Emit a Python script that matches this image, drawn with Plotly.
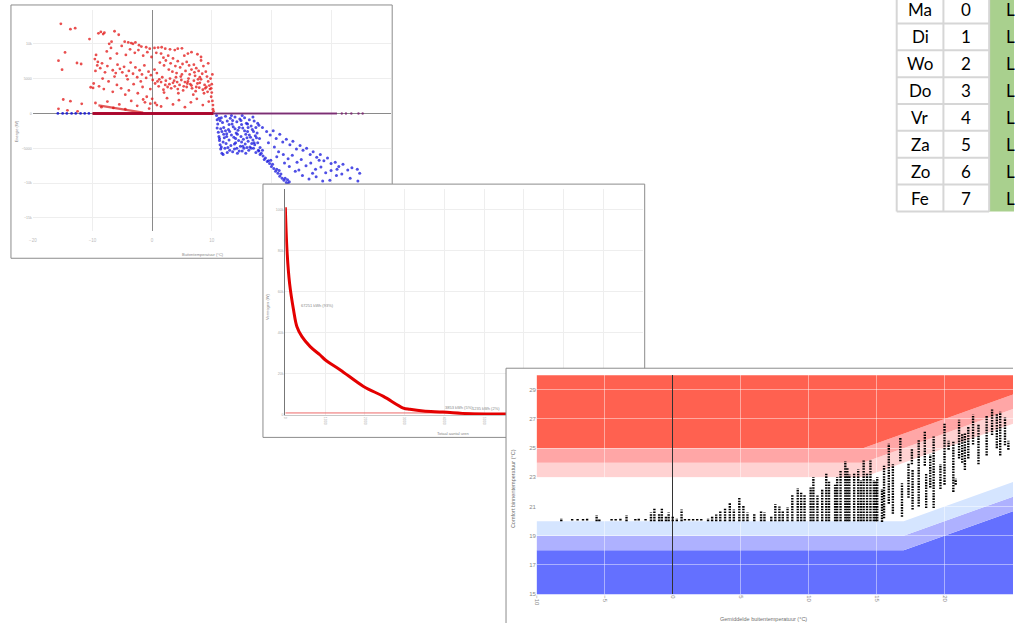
import plotly.graph_objects as go

W, H = 1015, 626
FONT = "Liberation Sans"

def dx(a, b):
    return [a / W, b / W]

def dy(top, bottom):
    return [1 - bottom / H, 1 - top / H]

def px(x):
    return x / W

def py(y):
    return 1 - y / H

# ---------------- Panel 1: energie vs buitentemperatuur ----------------
heat_pts = [
    (-15.3, 12860), (-13.7, 12100), (-12.9, 12240), (-15.7, 7570), (-14.6, 8760), (-15.1, 6290),
    (-12.6, 7240), (-11.9, 7100), (-10.5, 10670), (-10.3, 3760), (-9.9, 3670), (-14.9, 2000),
    (-13.7, 1760), (-11.8, 1380), (-15.7, 670), (-14.2, 450), (-12.5, 300),
    (-9.0, 11500), (-8.6, 11700), (-8.2, 11400), (-8.0, 11600), (-6.3, 11800), (-5.6, 11300),
    (-6.8, 10300), (-7.2, 10000), (-4.6, 10300), (-4.0, 10200), (-3.5, 10100), (-3.2, 10000),
    (-2.8, 10200), (-2.2, 9800), (-1.8, 9600), (-1.0, 9500), (-0.4, 9300), (0.4, 9400), (1.0, 9450),
    (1.6, 9500), (2.2, 9300), (3.0, 9200), (4.3, 9300), (5.0, 9350), (3.8, 9100), (6.0, 8600),
    (6.6, 8800), (7.6, 8500), (8.2, 8100),
    (-9.4, 8400), (-9.6, 7800), (-9.1, 7400), (-9.2, 6900), (-8.7, 6500), (-9.5, 6100), (-8.4, 7200),
    (-7.9, 5900), (-7.5, 6800), (-7.0, 7900), (-6.6, 6200), (-6.1, 5800), (-5.8, 7000), (-5.4, 6400),
    (-5.0, 5900), (-4.7, 6700), (-4.3, 5400), (-3.9, 6100), (-3.6, 7300), (-3.2, 5700), (-2.8, 6600),
    (-2.5, 5200), (-2.1, 6200), (-1.7, 5600), (-1.3, 6900), (-1.0, 5100), (-0.6, 6000), (-0.2, 5500),
    (0.1, 4800), (0.4, 6300), (0.8, 5800), (1.2, 4900), (1.5, 8600), (1.9, 8000), (2.3, 7600),
    (2.7, 8300), (3.1, 7200), (3.5, 7900), (3.9, 6800), (4.3, 7500), (4.7, 6600), (5.1, 7100),
    (5.4, 8300), (5.8, 7400), (6.2, 6900), (6.6, 6300), (7.0, 7000), (7.4, 6500), (7.8, 6100),
    (8.2, 7600), (8.6, 6800), (9.0, 6000), (9.4, 7200),
    (-9.8, 4300), (-8.9, 3900), (-8.1, 3500), (-7.3, 4600), (-6.6, 3100), (-5.9, 4100), (-5.2, 3600),
    (-4.5, 2700), (-3.9, 3300), (-3.1, 4200), (-2.4, 2900), (-1.6, 3800), (-0.9, 2400), (-0.3, 3500),
    (0.5, 4300), (1.1, 3900), (1.5, 4500), (1.9, 3400), (2.3, 4700), (2.6, 3800), (2.9, 4200),
    (3.2, 3600), (3.5, 4400), (3.8, 3900), (4.0, 5200), (4.3, 3500), (4.6, 4100), (4.9, 4800),
    (5.2, 3300), (5.5, 4500), (5.8, 3800), (6.1, 5000), (6.4, 4200), (6.7, 3600), (7.0, 4700),
    (7.3, 3200), (7.6, 4300), (7.9, 3700), (8.2, 4900), (8.5, 3400), (8.8, 4100), (9.1, 3800),
    (9.4, 4600), (9.7, 3500), (10.0, 4200), (10.1, 5600), (10.0, 3000), (9.9, 2400), (10.1, 1800),
    (10.2, 1200), (10.2, 600), (10.3, 300), (9.8, 5000), (9.9, 3600), (6.0, 4600), (7.2, 5400),
    (8.0, 5200), (5.0, 5600), (3.0, 5000), (4.4, 2900), (6.9, 2700), (8.7, 2900), (2.0, 3000),
    (-9.5, 1500), (-8.5, 900), (-7.5, 1700), (-6.5, 800), (-5.5, 1300), (-4.5, 600), (-3.5, 1800),
    (-2.5, 1100), (-1.5, 2000), (-0.5, 700), (0.5, 1500), (1.5, 1000), (2.5, 2200), (3.5, 1300),
    (4.5, 1900), (5.5, 900), (6.5, 1600), (7.5, 2100), (8.5, 1200), (9.5, 1700), (-1.2, 1600),
    (0.0, 2100), (0.8, 1200), (-0.3, 1400),
    (-7.6, 8900), (-6.9, 9400), (-5.9, 8600), (-5.1, 9700), (-4.4, 8400), (-3.7, 9200), (-2.9, 8700),
    (-2.3, 9100), (-1.5, 8300), (-0.8, 8800), (-0.1, 8100), (0.7, 8700), (1.3, 7300), (2.0, 6900),
    (2.8, 6300), (3.4, 6000), (4.1, 5800), (4.8, 5300), (5.6, 6100), (6.3, 5600), (7.1, 5900),
    (7.7, 4900), (8.4, 5700), (9.2, 5300), (9.6, 4000), (3.7, 4700), (4.2, 4500), (5.3, 3900),
    (5.9, 4300), (6.6, 4000), (7.4, 3800), (8.0, 4400), (8.9, 3600), (9.3, 3100), (2.2, 4100),
    (1.7, 5200), (0.9, 4600), (-1.9, 4600), (-4.1, 4900), (-6.3, 5300), (-8.3, 5000),
]
cool_pts = [
    (10.8, -300), (10.9, -900), (11.0, -1500), (10.9, -2100), (11.1, -2700), (11.2, -3300),
    (11.3, -3900), (11.4, -4500), (11.5, -5100), (11.7, -5700), (11.9, -5900),
    (11.6, -600), (12.3, -400), (13.1, -700), (13.9, -500), (14.7, -800), (15.5, -600), (16.3, -900),
    (17.1, -1100), (17.7, -1400), (11.8, -1300), (12.6, -1100), (13.4, -1500), (14.2, -1200),
    (15.0, -1600), (15.8, -1400), (16.6, -1800), (17.4, -2000), (12.0, -2000), (12.8, -2300),
    (13.6, -1900), (14.4, -2400), (15.2, -2100), (16.0, -2600), (16.8, -2300), (17.6, -2800),
    (11.7, -2600), (12.5, -2900), (13.3, -3100), (14.1, -2800), (14.9, -3300), (15.7, -3000),
    (16.5, -3400), (17.3, -3200), (18.0, -3600), (12.1, -3500), (12.9, -3800), (13.7, -3400),
    (14.5, -3900), (15.3, -3700), (16.1, -4000), (16.9, -3800), (17.7, -4200), (12.4, -4300),
    (13.2, -4600), (14.0, -4200), (14.8, -4700), (15.6, -4400), (16.4, -4800), (17.2, -4500),
    (18.1, -4900), (12.2, -5000), (13.0, -5300), (13.8, -5100), (14.6, -5400), (15.4, -5000),
    (16.2, -5300), (17.0, -5000), (17.8, -5300), (12.6, -5600), (13.5, -5500), (14.3, -5700),
    (15.1, -5400), (11.4, -1000), (12.0, -3000), (13.0, -2600), (14.0, -3600), (15.0, -4100),
    (16.0, -1500), (17.0, -2600), (11.9, -4100), (13.5, -1000), (14.6, -2000), (15.9, -3500),
    (16.7, -4300), (12.7, -4900), (14.2, -5000), (15.7, -5700), (17.4, -5600), (13.3, -300),
    (15.1, -300), (16.9, -500),
    (11.2, -700), (11.5, -2200), (11.3, -3600), (11.6, -4800), (12.9, -1600), (14.3, -3000),
    (15.5, -2500), (16.3, -3100), (17.5, -3500), (13.8, -4400), (15.2, -4700), (16.6, -5000),
    (12.3, -2500), (13.9, -2200), (16.1, -2000), (17.9, -1700), (14.9, -1000), (12.5, -3300),
    (15.9, -4900), (17.1, -4200),
    (17.9, -5400), (18.3, -5700), (18.6, -6100), (19.0, -6400), (19.3, -6900), (19.7, -7200),
    (20.0, -7600), (20.4, -7900), (20.7, -8300), (21.1, -8600), (21.4, -9000), (21.8, -9300),
    (22.1, -9600), (22.5, -9900), (22.8, -10100), (23.2, -10400), (18.1, -5900), (18.8, -6600),
    (19.5, -6800), (20.2, -7300), (20.9, -8000), (21.6, -8700), (22.3, -9300), (23.0, -9800),
    (18.5, -5300), (19.9, -6700), (21.3, -8200), (22.7, -9500),
    (18.5, -2000), (19.2, -2600), (19.8, -3100), (20.3, -2500), (20.8, -3600), (21.4, -3000),
    (21.9, -4100), (22.5, -3700), (23.1, -4500), (23.6, -4000), (24.2, -5100), (24.8, -4600),
    (25.3, -5300), (25.9, -5000), (26.5, -5900), (27.0, -5500), (27.6, -6300), (28.2, -5900),
    (28.8, -6800), (29.4, -6400), (30.0, -7200), (30.7, -7000), (31.3, -7600), (32.0, -7300),
    (32.8, -8100), (33.5, -7800), (34.4, -8000), (34.8, -8600), (19.5, -4200), (20.5, -4800),
    (21.2, -5500), (22.0, -5900), (22.8, -6500), (23.5, -6000), (24.3, -7000), (25.0, -6600),
    (25.8, -7500), (26.6, -7100), (27.4, -8000), (28.3, -7700), (29.1, -8500), (30.0, -8200),
    (30.9, -8900), (31.8, -8700), (23.0, -7600), (24.0, -8300), (25.2, -8900), (26.3, -9400),
    (27.5, -9100), (28.6, -9700), (29.8, -9600), (20.9, -6200), (22.2, -7100), (24.6, -8100),
    (26.9, -8600), (33.2, -9300), (34.5, -9700), (28.0, -6700), (31.0, -8000),
]
idle_left_x = [-15.8, -15.0, -14.3, -13.5, -12.8, -12.0, -11.3, -10.6]
idle_right_x = [31.8, 32.5, 33.4, 34.6, 35.3]
heat_tail_x = [-9.0, -6.0, -3.0, -1.5]
heat_tail_y = [1150, 700, 280, 120]
heat_base_x = [-10.0, 10.3]
mixed_base_x = [10.3, 31.0]
p1_xticks = [-20, -10, 0, 10, 20, 30]
p1_yticks = [-15000, -10000, -5000, 0, 5000, 10000]

# ---------------- Panel 2: belastingduurkromme ----------------
dur_hours = [0, 42, 108, 208, 292, 418, 625, 875, 1008, 1383, 1967, 2467, 2967, 3133, 3467,
             3967, 4633, 5550, 6500, 7500, 8760]
dur_power = [101300, 80240, 64080, 51120, 43060, 38200, 33350, 29270, 26840, 21990, 13930,
             9080, 3400, 2770, 1940, 1460, 630, 340, 100, 0, 0]
base_hours = [0, 9000]
base_power = [1000, 1000]
p2_xticks = [0, 1000, 2000, 3000, 4000, 5000, 6000, 7000, 8000, 9000]
p2_yticks = [0, 20000, 40000, 60000, 80000, 100000]
p2_labels = ["67251 kWh (93%)", "3853 kWh (5%)", "1235 kWh (2%)"]

# ---------------- Panel 3: comfort binnentemperatuur ----------------
col_x = [-8.2, -7.4, -7.0, -6.6, -6.3, -5.6, -5.4, -4.5, -4.2, -3.85, -3.4, -2.75, -2.5, -2.0,
         -1.6, -1.35, -1.0, -0.8, -0.5, -0.3, 0.0, 0.3, 0.65, 0.9, 1.2, 1.5, 1.8, 2.1, 2.6, 2.9,
         3.2, 3.5, 3.85, 4.2, 4.5, 4.9, 5.2, 5.5, 6.0, 6.5, 6.75, 7.25, 7.55, 7.85, 8.1, 8.45,
         8.8, 9.2, 9.45, 9.7, 10.15, 10.35, 10.65, 11.0, 11.3, 11.5, 11.95, 12.1, 12.35, 12.7,
         12.85, 13.0, 13.35, 13.65, 13.85, 14.05, 14.3, 14.55, 14.8, 14.95, 15.05, 15.4, 15.55,
         15.9, 16.2, 16.75, 16.87, 17.35, 17.6, 17.65, 18.1, 18.55, 18.65, 18.95, 19.2, 19.7,
         20.0, 20.3, 20.65, 20.82, 21.07, 21.3, 21.5, 21.75, 22.1, 22.5, 23.1, 23.5, 23.85,
         24.1, 24.45, 24.7]
col_lo = [20.0, 20.05, 20.05, 20.05, 20.05, 20.0, 20.0, 20.05, 20.05, 20.05, 20.0, 20.05, 20.05,
          20.05, 20.0, 20.0, 20.0, 20.0, 20.0, 20.0, 20.0, 20.0, 20.0, 20.05, 20.05, 20.05, 20.05,
          20.05, 20.0, 20.0, 20.0, 20.0, 20.0, 20.0, 20.0, 20.0, 20.0, 20.0, 20.0, 20.0, 20.0,
          20.0, 20.0, 20.0, 20.0, 20.0, 20.0, 20.0, 20.0, 20.0, 20.0, 20.0, 20.0, 20.0, 20.0,
          20.0, 20.0, 20.0, 20.0, 20.0, 20.0, 20.0, 20.0, 20.0, 20.0, 20.0, 20.0, 20.0, 20.0,
          20.0, 20.0, 19.95, 20.2, 21.2, 20.5, 24.1, 20.3, 21.6, 23.9, 20.8, 21.0, 23.8, 20.9,
          22.3, 20.9, 22.2, 22.5, 24.9, 22.0, 22.5, 24.3, 24.0, 23.5, 24.3, 25.25, 23.9, 24.5,
          25.9, 25.0, 24.5, 25.2, 24.9]
col_hi = [20.2, 20.15, 20.15, 20.15, 20.2, 20.4, 20.15, 20.15, 20.15, 20.2, 20.4, 20.15, 20.2,
          20.15, 20.6, 20.85, 20.5, 20.9, 20.3, 20.6, 20.35, 20.2, 20.8, 20.15, 20.15, 20.15,
          20.15, 20.15, 20.2, 20.3, 20.45, 20.7, 20.9, 21.25, 20.8, 21.65, 21.1, 20.6, 20.5,
          20.7, 20.6, 20.35, 21.15, 21.0, 20.7, 20.95, 21.85, 22.25, 21.95, 21.85, 22.3, 23.0,
          21.75, 22.2, 23.3, 22.75, 22.5, 23.0, 23.45, 24.1, 23.65, 23.2, 23.3, 23.55, 22.8,
          24.15, 23.3, 24.15, 22.8, 22.75, 23.0, 22.2, 23.8, 25.3, 23.9, 25.7, 22.6, 24.0, 25.0,
          23.5, 25.6, 26.2, 23.3, 24.55, 25.8, 23.9, 26.7, 25.5, 25.5, 22.9, 26.95, 26.0, 26.0,
          26.5, 27.3, 26.6, 27.2, 27.65, 27.4, 27.5, 27.1, 25.5]
band_low_x = [-11, 17, 26]
band_18 = [18, 18, 21.0]
band_19 = [19, 19, 22.0]
band_20 = [20, 20, 23.0]
band_high_x = [-11, 14, 26]
band_23 = [23, 23, 27.0]
band_24 = [24, 24, 28.0]
band_25 = [25, 25, 29.0]
p3_xticks = [-10, -5, 0, 5, 10, 15, 20, 25]
p3_yticks = [15, 17, 19, 21, 23, 25, 27, 29]

# ---------------- Table ----------------
days = ["Ma", "Di", "Wo", "Do", "Vr", "Za", "Zo", "Fe"]
day_nr = [0, 1, 2, 3, 4, 5, 6, 7]
day_state = ["L", "L", "L", "L", "L", "L", "L", "L"]

fig = go.Figure()

# ----- panel 1 traces (x / y)
fig.add_trace(go.Scatter(x=idle_left_x, y=[0] * len(idle_left_x), mode="markers",
                         marker=dict(size=2.8, color="rgba(20,20,210,0.85)"), xaxis="x", yaxis="y"))
fig.add_trace(go.Scatter(x=[p[0] for p in heat_pts], y=[p[1] for p in heat_pts], mode="markers",
                         marker=dict(size=2.8, color="rgba(225,20,20,0.75)"), xaxis="x", yaxis="y"))
fig.add_trace(go.Scatter(x=heat_tail_x, y=heat_tail_y, mode="lines",
                         line=dict(color="rgba(215,20,20,0.7)", width=2.2), xaxis="x", yaxis="y"))
fig.add_trace(go.Scatter(x=[p[0] for p in cool_pts], y=[p[1] for p in cool_pts], mode="markers",
                         marker=dict(size=3, color="rgba(20,20,220,0.75)"), xaxis="x", yaxis="y"))
fig.add_trace(go.Scatter(x=heat_base_x, y=[0, 0], mode="lines",
                         line=dict(color="rgba(170,0,40,0.95)", width=3), xaxis="x", yaxis="y"))
fig.add_trace(go.Scatter(x=mixed_base_x, y=[0, 0], mode="lines",
                         line=dict(color="rgba(120,30,110,0.85)", width=2), xaxis="x", yaxis="y"))
fig.add_trace(go.Scatter(x=idle_right_x, y=[0] * len(idle_right_x), mode="markers",
                         marker=dict(size=2.4, color="rgba(120,30,110,0.8)"), xaxis="x", yaxis="y"))

# ----- mask for panel 2 (x2 / y2)
fig.add_trace(go.Scatter(x=[None], y=[None], xaxis="x2", yaxis="y2"))

# ----- panel 2 traces (x3 / y3)
fig.add_trace(go.Scatter(x=base_hours, y=base_power, mode="lines",
                         line=dict(color="rgba(235,90,90,0.9)", width=1), xaxis="x3", yaxis="y3"))
fig.add_trace(go.Scatter(x=dur_hours, y=dur_power, mode="lines", line_shape="spline",
                         line=dict(color="rgb(228,0,0)", width=3), xaxis="x3", yaxis="y3"))

# ----- mask for panel 3 (x4 / y4)
fig.add_trace(go.Scatter(x=[None], y=[None], xaxis="x4", yaxis="y4"))

# ----- panel 3 traces (x5 / y5)
cx, cy = [], []
for x, lo, hi in zip(col_x, col_lo, col_hi):
    cx += [x, x, None]
    cy += [lo, hi, None]
fig.add_trace(go.Scatter(x=cx, y=cy, mode="lines",
                         line=dict(color="black", width=2.4, dash="1.6px,1.1px"),
                         xaxis="x5", yaxis="y5"))

shapes = []
# panel 1 frame
shapes.append(dict(type="rect", xref="paper", yref="paper", x0=px(7), x1=px(390.5),
                   y0=py(259.5), y1=py(5), fillcolor="white",
                   line=dict(color="#8c8c8c", width=1), layer="below"))
# panel 2 frame (mask)
shapes.append(dict(type="rect", xref="x2", yref="y2", x0=260.5, x1=644.5, y0=185, y1=439.5,
                   fillcolor="white", line=dict(color="#8c8c8c", width=1), layer="below"))
# panel 3 frame (mask)
shapes.append(dict(type="rect", xref="x4", yref="y4", x0=505, x1=1030, y0=370, y1=640,
                   fillcolor="white", line=dict(color="#8c8c8c", width=1), layer="below"))

def band_path(xa, ya, xb, yb):
    pts = list(zip(xa, ya)) + list(zip(xb[::-1], yb[::-1]))
    return "M " + " L ".join(f"{x},{y}" for x, y in pts) + " Z"

bands = [
    (band_low_x, [14, 14, 14], band_low_x, band_18, "#6470FF"),
    (band_low_x, band_18, band_low_x, band_19, "#AEB1FF"),
    (band_low_x, band_19, band_low_x, band_20, "#D5E5FF"),
    (band_high_x, band_23, band_high_x, band_24, "#FFD2D2"),
    (band_high_x, band_24, band_high_x, band_25, "#FFA6A6"),
    (band_high_x, band_25, band_high_x, [31, 31, 31], "#FF6150"),
]
for xa, ya, xb, yb, col in bands:
    shapes.append(dict(type="path", xref="x5", yref="y5", path=band_path(xa, ya, xb, yb),
                       fillcolor=col, line=dict(width=0), layer="below"))

# table
row_top = -3.5
row_h = 27
tbl_left, c1, c2, tbl_right = 898, 945, 991, 1016
shapes.append(dict(type="rect", xref="paper", yref="paper", x0=px(c2), x1=px(tbl_right),
                   y0=py(row_top + 8 * row_h), y1=py(row_top), fillcolor="#A9D08E",
                   line=dict(width=0), layer="below"))
for i in range(9):
    yy = row_top + i * row_h
    shapes.append(dict(type="line", xref="paper", yref="paper", x0=px(tbl_left), x1=px(c2),
                       y0=py(yy), y1=py(yy), line=dict(color="#D6D6D6", width=2)))
for xx in (tbl_left, c1, c2):
    shapes.append(dict(type="line", xref="paper", yref="paper", x0=px(xx), x1=px(xx),
                       y0=py(row_top), y1=py(row_top + 8 * row_h),
                       line=dict(color="#D6D6D6", width=2)))

def note(x, y, text, font, xanchor="center", yanchor="middle", angle=0):
    return dict(x=px(x), y=py(y), text=text, showarrow=False, xref="paper", yref="paper",
                xanchor=xanchor, yanchor=yanchor, textangle=angle, font=font)

tfont = dict(family="Lato", size=17, color="black")
ann = []
for i, (d, n, s) in enumerate(zip(days, day_nr, day_state)):
    yc = row_top + (i + 0.5) * row_h
    ann.append(note((tbl_left + c1) / 2, yc, d, tfont))
    ann.append(note((c1 + c2) / 2, yc, str(n), tfont))
    ann.append(note(1006, yc, s, tfont, xanchor="left"))

small = dict(family=FONT, size=4, color="#888888")
big = dict(family=FONT, size=5.5, color="#707070")
ann += [
    note(200, 255.5, "Buitentemperatuur (°C)", small),
    note(12, 132, "Energie (W)", small, angle=-90),
    note(452, 436, "Totaal aantal uren", small),
    note(265, 308, "Vermogen (W)", small, angle=-90),
    note(297, 307, p2_labels[0], small, xanchor="left"),
    note(442, 409, p2_labels[1], small, xanchor="left"),
    note(469, 410.5, p2_labels[2], small, xanchor="left"),
    note(764, 621.5, "Gemiddelde buitentemperatuur (°C)", big),
    note(511.5, 491, "Comfort binnentemperatuur (°C)", big, angle=-90),
]

hidden = dict(visible=False, showgrid=False, zeroline=False, fixedrange=True)
tiny = dict(family=FONT, size=3.6, color="#aaaaaa")

fig.update_layout(
    width=W, height=H, margin=dict(l=0, r=0, t=0, b=0),
    paper_bgcolor="white", plot_bgcolor="rgba(0,0,0,0)", showlegend=False,
    shapes=shapes, annotations=ann,
    xaxis=dict(domain=dx(29, 389), range=[-20, 40], anchor="y", tickvals=p1_xticks,
               showgrid=True, gridcolor="#eeeeee", zeroline=True, zerolinecolor="#8a8a8a",
               zerolinewidth=1, showline=False, ticks="",
               tickfont=dict(family=FONT, size=4.5, color="#bbbbbb"), ticklabelstandoff=6),
    yaxis=dict(domain=dy(10, 232), range=[-16857, 14857], anchor="x", tickvals=p1_yticks,
               showgrid=True, gridcolor="#eeeeee", zeroline=True, zerolinecolor="#8a8a8a",
               zerolinewidth=1, showline=False, ticks="", tickfont=tiny),
    xaxis2=dict(domain=dx(259, 647), range=[259, 647], anchor="y2", **hidden),
    yaxis2=dict(domain=dy(183, 442), range=[442, 183], anchor="x2", **hidden),
    xaxis3=dict(domain=dx(283, 643), range=[0, 9000], anchor="y3", tickvals=p2_xticks,
                tickangle=90, showgrid=True, gridcolor="#eeeeee", zeroline=False,
                showline=True, linecolor="#c8c8c8", linewidth=1, ticks="", tickfont=tiny),
    yaxis3=dict(domain=dy(190, 417), range=[0, 110200], anchor="x3", tickvals=p2_yticks,
                showgrid=True, gridcolor="#eeeeee", zeroline=False, showline=True,
                linecolor="#777777", linewidth=1, ticks="", tickfont=tiny),
    xaxis4=dict(domain=dx(503, 1015), range=[503, 1015], anchor="y4", **hidden),
    yaxis4=dict(domain=dy(368, 626), range=[626, 368], anchor="x4", **hidden),
    xaxis5=dict(domain=dx(536, 1015), range=[-10, 25.04], anchor="y5", tickvals=p3_xticks,
                tickangle=90, showgrid=True, gridcolor="rgba(255,255,255,0.45)", zeroline=True,
                zerolinecolor="#333333", zerolinewidth=1, showline=False, ticks="",
                tickfont=dict(family=FONT, size=6, color="#8a8a8a")),
    yaxis5=dict(domain=dy(377, 597), range=[15, 30], anchor="x5", tickvals=p3_yticks,
                showgrid=True, gridcolor="rgba(255,255,255,0.45)", zeroline=False,
                showline=False, ticks="", tickfont=dict(family=FONT, size=6, color="#8a8a8a")),
)

fig.write_html("out.html", config={"displayModeBar": False},
               post_script="document.body.style.margin='0';document.body.style.overflow='hidden';")
